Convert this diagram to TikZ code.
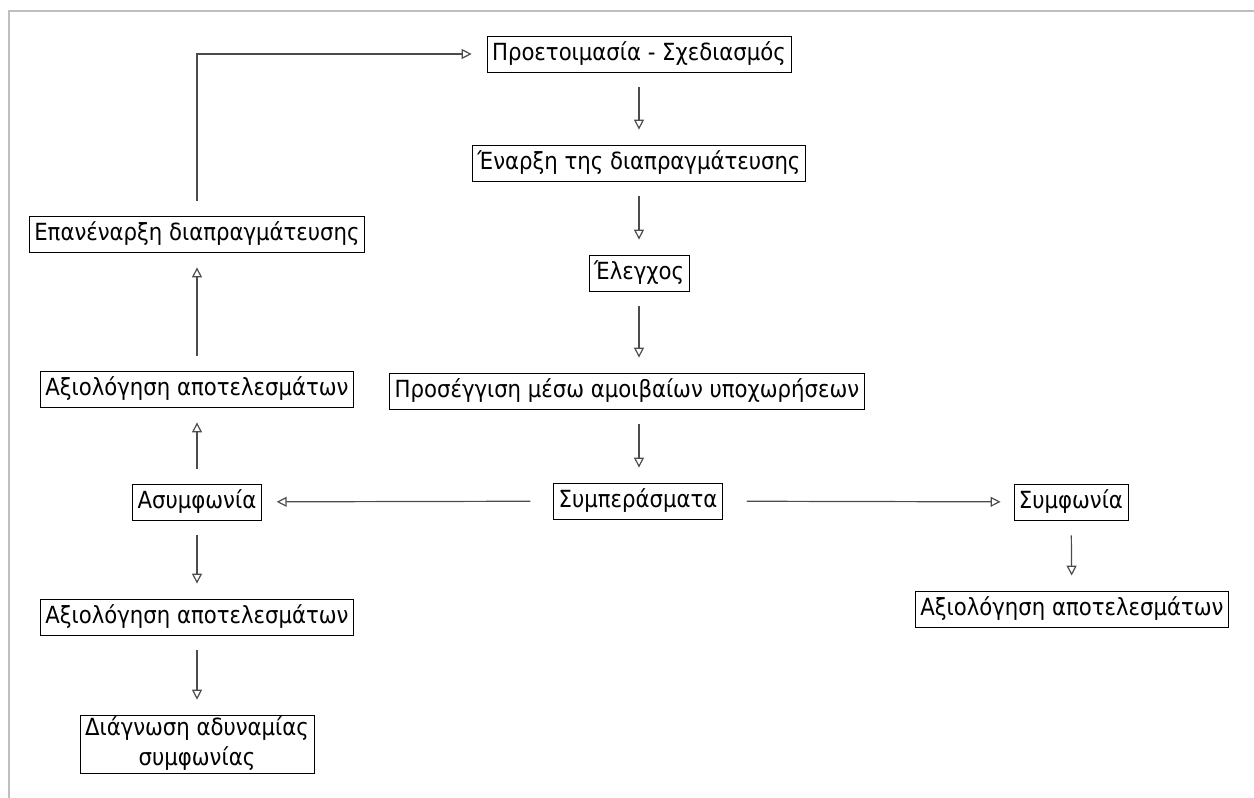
\documentclass[tikz,border=0pt]{standalone}
\usepackage{fontspec}
\setmainfont{DejaVu Sans Condensed}
\usetikzlibrary{arrows.meta}
\begin{document}
\begin{tikzpicture}[x=0.5pt, y=-0.5pt,
box/.style={draw, thin, inner xsep=2.5pt, inner ysep=1pt, minimum height=18pt, align=center, font=\fontsize{11.8}{15}\selectfont},
flow/.style={draw=black!70, semithick, -{Triangle[open, length=5pt, width=5pt]}, shorten <=7.5pt, shorten >=7.5pt}]
\useasboundingbox (0,0) rectangle (1254,798);
\draw[black!25, line width=1pt] (8.5,798) -- (8.5,10.5) -- (1254,10.5);
\node[box] (prep) at (639,54) {Προετοιμασία - Σχεδιασμός};
\node[box] (start) at (639,163) {Έναρξη της διαπραγμάτευσης};
\node[box] (check) at (639,273) {Έλεγχος};
\node[box] (redux) at (627,391) {Προσέγγιση μέσω αμοιβαίων υποχωρήσεων};
\node[box] (concl) at (638,501) {Συμπεράσματα};
\node[box] (agree) at (1071,502) {Συμφωνία};
\node[box] (evalc) at (1072,609) {Αξιολόγηση αποτελεσμάτων};
\node[box] (disag) at (197,502) {Ασυμφωνία};
\node[box] (evala) at (197,389) {Αξιολόγηση αποτελεσμάτων};
\node[box] (restart) at (197,234) {Επανέναρξη διαπραγμάτευσης};
\node[box] (evalb) at (197,617) {Αξιολόγηση αποτελεσμάτων};
\node[box] (diag) at (197,744) {Διάγνωση αδυναμίας\\συμφωνίας};
\draw[flow] (prep.south -| 639,0) -- (start.north -| 639,0);
\draw[flow] (start.south -| 639,0) -- (check.north -| 639,0);
\draw[flow] (check.south -| 639,0) -- (redux.north -| 639,0);
\draw[flow] (redux.south -| 639,0) -- (concl.north -| 639,0);
\draw[flow, shorten <=11.5pt] (concl) -- (disag);
\draw[flow, shorten <=12pt, shorten >=6.5pt] (concl) -- (agree);
\draw[flow] (agree) -- (evalc);
\draw[flow] (disag) -- (evala);
\draw[flow] (evala) -- (restart);
\draw[flow] (restart) |- (prep);
\draw[flow] (disag) -- (evalb);
\draw[flow] (evalb) -- (diag);
\end{tikzpicture}
\end{document}
